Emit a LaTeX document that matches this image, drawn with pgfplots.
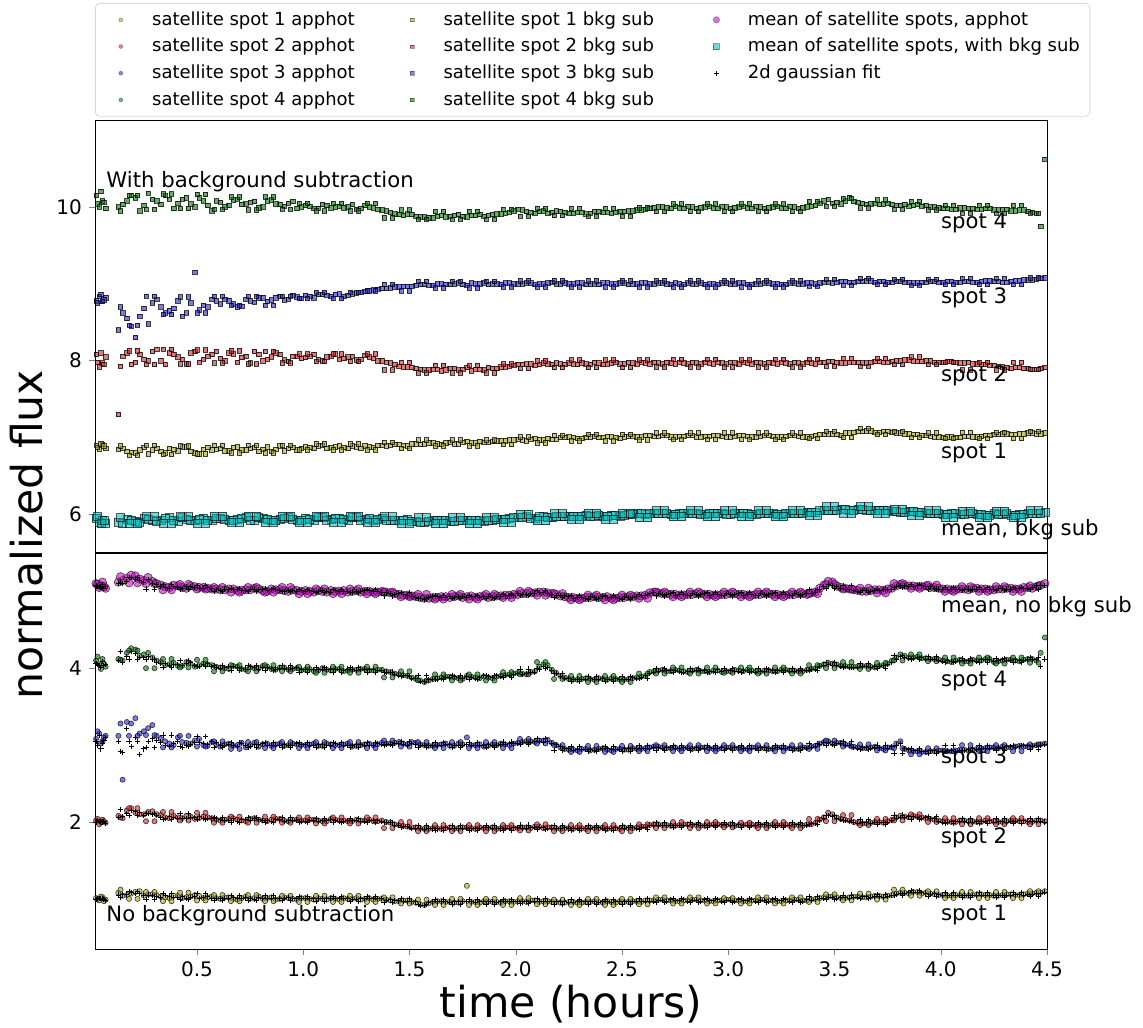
\documentclass[border=0pt]{standalone}
\usepackage{pgfplots}
\pgfplotsset{compat=1.18}
\usepackage{pgfplotstable}
\usepackage{fontspec}
\setmainfont{DejaVu Sans}
\definecolor{cA}{RGB}{165,165,20}
\definecolor{cB}{RGB}{210,35,35}
\definecolor{cC}{RGB}{35,35,210}
\definecolor{cD}{RGB}{0,120,0}
\definecolor{cM}{RGB}{185,0,185}
\definecolor{cN}{RGB}{0,185,185}
\pgfplotsset{
  ap/.style={only marks, mark=*, mark size=1.3pt, mark options={fill=#1, fill opacity=0.6, draw=black, draw opacity=0.75, line width=0.3pt}},
  bk/.style={only marks, mark=square*, mark size=1.1pt, mark options={fill=#1, fill opacity=0.6, draw=black, draw opacity=0.75, line width=0.3pt}},
  apL/.style={only marks, mark=*, mark size=1.0pt, mark options={fill=#1, fill opacity=0.55, draw=black, draw opacity=0.4, line width=0.2pt}},
  bkL/.style={only marks, mark=square*, mark size=0.9pt, mark options={fill=#1, fill opacity=0.55, draw=black, draw opacity=0.4, line width=0.2pt}},
  gs/.style={only marks, mark=+, mark size=1.3pt, mark options={draw=black, line width=0.45pt}},
  legimg/.style={legend image code/.code={\path (-9.5pt,0pt) (13.5pt,0pt); \draw[##1] plot coordinates {(0pt,0pt)};}},
}
\pgfplotstableread{
t s1a s2a s3a s4a ma g1 g2 g3 g4 gm s1b s2b s3b s4b mb
0.025 1.01 2.02 3.08 4.10 5.10 0.99 2.00 3.05 4.06 5.07 6.90 8.08 8.78 10.15 5.95
0.04 0.98 1.97 3.15 4.05 5.05 1.00 2.01 3.12 4.03 5.06 6.85 7.92 8.84 10.00 5.90
0.055 1.02 2.03 3.05 4.12 5.12 1.01 2.00 3.02 4.09 5.09 6.91 7.97 8.77 10.08 5.93
0.07 0.99 1.99 3.12 4.02 5.04 0.98 1.98 3.10 4.05 5.06 6.86 8.05 8.82 9.98 5.89
0.13 1.08 2.08 3.12 4.12 5.12 1.05 2.06 3.05 4.10 5.10 6.85 7.30 8.40 10.00 5.90
0.17 1.05 2.15 3.30 4.20 5.17 1.06 2.11 3.22 4.15 5.13 6.82 8.10 8.55 10.08 5.94
0.21 1.09 2.12 3.35 4.24 5.20 1.07 2.14 3.10 4.19 5.16 6.80 7.98 8.30 10.12 5.91
0.25 1.04 2.10 3.18 4.18 5.14 1.05 2.08 2.95 4.14 5.11 6.87 8.02 8.68 10.02 5.95
0.29 1.06 2.14 3.26 4.14 5.13 1.04 2.10 3.08 4.12 5.10 6.84 8.12 8.75 10.10 5.92
0.33 1.03 2.09 3.08 4.08 5.08 1.02 2.06 3.04 4.06 5.06 6.82 8.00 8.70 10.03 5.93
0.37 1.01 2.05 3.02 4.05 5.05 1.03 2.07 2.98 4.03 5.04 6.86 8.10 8.65 10.10 5.96
0.41 1.04 2.06 3.10 4.03 5.07 1.02 2.04 3.05 4.05 5.05 6.83 8.05 8.78 10.05 5.91
0.45 1.02 2.08 3.03 4.08 5.04 1.01 2.05 3.00 4.06 5.06 6.88 7.96 8.62 10.12 5.94
0.49 1.05 2.04 3.06 4.02 5.06 1.03 2.06 3.03 4.04 5.05 6.80 8.12 9.15 10.00 5.92
0.53 1.01 2.07 3.00 4.06 5.05 1.02 2.05 3.02 4.05 5.04 6.85 8.02 8.72 10.08 5.95
0.57 1.03 2.05 3.04 4.04 5.03 1.01 2.04 3.05 4.02 5.04 6.84 8.08 8.80 9.95 5.93
0.61 1.00 2.02 2.98 4.01 5.02 1.01 2.03 3.00 4.00 5.01 6.86 8.03 8.74 10.06 5.95
0.65 1.02 2.04 3.02 3.99 5.03 1.00 2.02 3.01 4.02 5.02 6.83 8.10 8.78 10.02 5.92
0.69 0.99 2.03 3.00 4.02 5.01 1.01 2.01 2.98 4.01 5.02 6.88 7.98 8.70 10.10 5.94
0.73 1.03 2.01 2.97 3.98 5.02 1.02 2.03 2.99 3.99 5.01 6.84 8.06 8.80 10.04 5.96
0.77 1.01 2.05 3.03 4.00 5.04 0.99 2.04 3.01 4.01 5.03 6.87 8.12 8.76 10.07 5.93
0.81 1.00 2.02 3.01 4.03 5.01 1.01 2.02 3.02 4.01 5.02 6.85 8.00 8.82 10.00 5.95
0.85 1.02 2.03 2.99 3.99 5.03 1.00 2.01 3.00 4.00 5.02 6.82 8.05 8.79 10.09 5.92
0.89 1.00 2.04 3.02 4.01 5.02 1.01 2.03 3.00 4.00 5.01 6.89 8.08 8.84 10.03 5.94
0.93 1.01 2.01 3.00 3.98 5.00 1.02 2.02 2.99 3.99 5.01 6.86 7.99 8.80 10.05 5.96
0.97 0.99 2.03 3.01 4.00 5.01 1.00 2.02 3.02 4.01 5.00 6.84 8.06 8.83 9.98 5.93
1.01 1.01 2.02 3.00 3.98 5.01 1.00 2.01 3.01 3.99 5.00 6.88 8.04 8.85 10.02 5.95
1.05 0.99 2.03 3.02 3.96 4.99 1.00 2.02 3.00 3.98 5.00 6.86 8.08 8.82 9.98 5.93
1.09 1.00 2.01 2.99 4.00 5.00 1.01 2.02 3.01 3.99 5.01 6.90 8.00 8.86 10.03 5.96
1.13 1.01 2.04 3.01 3.97 5.01 1.00 2.03 3.00 3.98 4.99 6.87 8.06 8.84 9.99 5.94
1.17 0.99 2.02 3.00 3.99 5.00 1.00 2.01 3.01 3.98 5.00 6.89 8.02 8.87 10.01 5.95
1.21 1.00 2.01 3.02 3.97 4.99 1.01 2.02 3.00 3.99 5.00 6.86 8.05 8.85 10.00 5.93
1.25 1.01 2.03 2.99 3.98 5.01 0.99 2.02 3.01 3.97 5.00 6.88 8.01 8.88 9.97 5.96
1.29 1.00 2.02 3.01 3.99 5.00 1.01 2.01 3.00 3.98 5.01 6.89 8.07 8.90 10.02 5.94
1.33 0.99 2.01 3.00 3.97 4.99 1.00 2.02 2.99 3.98 5.00 6.87 8.03 8.92 9.99 5.93
1.37 1.00 2.02 3.03 3.98 5.00 1.00 2.01 3.01 3.97 4.99 6.90 8.00 8.94 9.96 5.95
1.41 0.98 1.99 3.02 3.95 4.98 0.99 2.00 3.01 3.94 4.97 6.90 7.97 8.95 9.93 5.93
1.45 0.97 1.96 3.04 3.92 4.96 0.98 1.95 3.02 3.91 4.97 6.91 7.93 8.96 9.90 5.92
1.49 0.98 1.94 3.01 3.90 4.95 0.97 1.94 3.00 3.91 4.94 6.89 7.92 8.97 9.91 5.94
1.53 0.95 1.93 3.03 3.86 4.93 0.96 1.92 3.01 3.87 4.92 6.92 7.90 8.98 9.88 5.91
1.57 0.92 1.91 3.00 3.82 4.91 0.91 1.90 2.99 3.83 4.90 6.92 7.88 8.99 9.87 5.90
1.61 0.96 1.92 2.99 3.86 4.92 0.97 1.91 3.00 3.85 4.93 6.93 7.89 8.98 9.86 5.92
1.65 0.97 1.91 3.01 3.88 4.93 0.96 1.92 3.00 3.87 4.92 6.91 7.87 9.00 9.89 5.93
1.69 0.96 1.93 2.99 3.89 4.92 0.95 1.92 3.01 3.88 4.93 6.94 7.90 8.99 9.88 5.91
1.73 0.95 1.92 3.02 3.87 4.94 0.96 1.91 3.00 3.88 4.93 6.92 7.88 9.01 9.90 5.92
1.77 1.17 1.93 3.10 3.90 4.93 0.97 1.92 3.01 3.89 4.92 6.95 7.91 8.98 9.87 5.93
1.81 0.96 1.91 3.00 3.88 4.92 0.95 1.92 2.99 3.87 4.93 6.93 7.89 9.00 9.89 5.92
1.85 0.97 1.92 2.98 3.89 4.94 0.96 1.93 3.00 3.90 4.93 6.94 7.88 9.01 9.88 5.91
1.89 0.96 1.93 3.01 3.87 4.93 0.97 1.92 3.00 3.88 4.92 6.95 7.90 9.00 9.90 5.93
1.93 0.95 1.92 3.02 3.90 4.94 0.96 1.91 3.01 3.89 4.93 6.96 7.92 8.99 9.91 5.94
1.97 0.97 1.93 3.00 3.92 4.95 0.96 1.92 3.02 3.91 4.94 6.97 7.93 9.01 9.93 5.95
2.01 0.97 1.92 3.03 3.94 4.96 0.96 1.93 3.02 3.93 4.97 6.98 7.95 9.00 9.97 5.96
2.05 0.96 1.93 3.05 3.92 4.97 0.97 1.92 3.04 3.93 4.96 6.96 7.96 9.01 9.94 5.97
2.09 0.98 1.94 3.04 3.96 4.98 0.97 1.93 3.05 3.95 4.97 6.99 7.94 8.99 9.92 5.95
2.13 0.97 1.92 3.06 4.05 4.99 0.96 1.93 3.04 4.02 4.98 6.97 7.97 9.00 9.95 5.97
2.17 0.96 1.93 3.03 3.98 4.97 0.97 1.92 3.02 3.97 4.96 6.98 7.95 9.02 9.93 5.96
2.21 0.95 1.91 2.97 3.90 4.94 0.96 1.92 2.98 3.89 4.95 7.00 7.96 9.00 9.94 5.97
2.25 0.96 1.92 2.94 3.86 4.92 0.95 1.91 2.95 3.87 4.93 7.01 7.97 9.00 9.92 5.98
2.29 0.95 1.93 2.93 3.85 4.91 0.96 1.92 2.94 3.86 4.92 6.99 7.95 9.01 9.93 5.97
2.33 0.96 1.91 2.95 3.87 4.92 0.97 1.92 2.94 3.86 4.91 7.00 7.96 8.99 9.91 5.99
2.37 0.97 1.92 2.94 3.85 4.93 0.96 1.93 2.93 3.86 4.92 7.02 7.98 9.00 9.94 5.98
2.41 0.95 1.93 2.96 3.86 4.92 0.96 1.92 2.95 3.87 4.93 7.00 7.95 9.01 9.93 5.97
2.45 0.96 1.92 2.93 3.87 4.91 0.95 1.91 2.94 3.86 4.92 7.01 7.97 9.00 9.92 5.99
2.49 0.97 1.91 2.95 3.85 4.92 0.96 1.92 2.94 3.86 4.91 6.99 7.96 9.01 9.94 5.98
2.53 0.96 1.92 2.94 3.86 4.93 0.97 1.93 2.95 3.85 4.92 7.02 7.98 8.99 9.95 6.00
2.57 0.97 1.93 2.95 3.88 4.94 0.96 1.92 2.96 3.87 4.93 7.01 7.96 9.00 9.96 6.01
2.61 0.98 1.94 2.96 3.90 4.95 0.97 1.93 2.95 3.91 4.94 7.03 7.97 9.01 9.97 6.00
2.65 0.98 1.97 2.98 3.96 4.99 0.97 1.96 2.97 3.95 4.98 7.02 7.98 9.00 9.99 6.01
2.69 0.99 1.96 2.97 3.98 4.97 0.98 1.95 2.96 3.97 4.96 7.03 7.96 9.01 10.00 6.02
2.73 0.98 1.95 2.96 3.96 4.96 0.99 1.96 2.97 3.97 4.97 7.01 7.97 8.99 9.98 6.00
2.77 0.97 1.96 2.95 3.97 4.95 0.98 1.95 2.96 3.96 4.96 7.02 7.98 9.00 9.99 6.01
2.81 0.98 1.97 2.97 3.95 4.96 0.97 1.96 2.96 3.96 4.95 7.03 7.96 9.01 10.01 6.02
2.85 0.99 1.96 2.96 3.98 4.97 0.98 1.97 2.97 3.97 4.96 7.01 7.97 9.00 9.98 6.01
2.89 0.98 1.95 2.97 3.96 4.96 0.99 1.96 2.96 3.97 4.97 7.02 7.98 8.99 10.00 6.00
2.93 0.97 1.97 2.95 3.97 4.95 0.98 1.96 2.96 3.96 4.96 7.03 7.96 9.00 9.99 6.02
2.97 0.98 1.96 2.96 3.95 4.96 0.97 1.97 2.97 3.96 4.95 7.02 7.97 9.01 10.01 6.01
3.01 0.99 1.97 2.97 3.96 4.97 0.98 1.96 2.96 3.97 4.96 7.01 7.98 9.00 9.98 6.00
3.05 0.98 1.96 2.96 3.97 4.96 0.99 1.97 2.97 3.96 4.97 7.03 7.96 9.01 10.00 6.02
3.09 0.97 1.97 2.95 3.98 4.95 0.98 1.96 2.96 3.97 4.96 7.02 7.97 8.99 9.99 6.01
3.13 0.98 1.95 2.97 3.96 4.96 0.97 1.96 2.96 3.95 4.95 7.01 7.98 9.00 10.01 6.00
3.17 0.99 1.96 2.96 3.97 4.97 0.98 1.97 2.97 3.96 4.96 7.03 7.96 9.01 9.98 6.02
3.21 0.98 1.97 2.95 3.96 4.96 0.99 1.96 2.96 3.97 4.97 7.02 7.97 9.00 10.00 6.01
3.25 0.97 1.96 2.97 3.98 4.95 0.98 1.95 2.96 3.97 4.96 7.01 7.98 8.99 9.99 6.00
3.29 0.98 1.95 2.96 3.97 4.96 0.97 1.96 2.97 3.96 4.95 7.03 7.96 9.01 10.01 6.02
3.33 0.99 1.96 2.95 3.96 4.97 0.98 1.97 2.96 3.97 4.96 7.02 7.97 9.00 9.98 6.01
3.37 0.98 1.97 2.97 3.98 4.96 0.99 1.96 2.96 3.97 4.97 7.01 7.98 9.01 10.00 6.03
3.41 1.00 1.99 2.99 4.00 4.99 0.99 1.98 2.98 3.99 4.98 7.03 7.96 9.00 10.02 6.03
3.45 1.02 2.06 3.04 4.05 5.08 1.01 2.04 3.03 4.03 5.06 7.04 7.98 9.02 10.08 6.06
3.49 1.03 2.10 3.02 4.06 5.12 1.02 2.07 3.01 4.04 5.08 7.05 7.99 9.01 10.05 6.05
3.53 1.01 2.04 3.03 4.03 5.05 1.02 2.03 3.02 4.02 5.04 7.03 7.97 9.03 10.04 6.07
3.57 1.02 2.02 3.00 4.02 5.03 1.01 2.01 2.99 4.01 5.02 7.06 7.98 9.02 10.12 6.06
3.61 1.03 1.99 2.97 4.02 5.01 1.02 1.98 2.96 4.01 5.00 7.08 7.98 9.03 10.06 6.07
3.65 1.02 1.98 2.96 4.03 5.00 1.03 1.99 2.97 4.02 5.01 7.09 7.97 9.04 10.03 6.06
3.69 1.04 2.00 2.98 4.01 5.02 1.03 1.99 2.97 4.02 5.01 7.07 7.99 9.02 10.05 6.05
3.73 1.03 1.99 2.95 4.04 5.01 1.02 2.00 2.96 4.03 5.02 7.08 7.98 9.03 10.04 6.06
3.77 1.05 2.03 2.97 4.10 5.04 1.04 2.02 2.98 4.08 5.03 7.07 7.99 9.02 10.03 6.04
3.81 1.08 2.08 3.05 4.18 5.09 1.07 2.06 3.02 4.15 5.07 7.06 8.00 9.03 10.02 6.03
3.85 1.07 2.06 2.93 4.14 5.07 1.08 2.07 2.94 4.13 5.06 7.05 8.01 9.02 10.01 6.04
3.89 1.09 2.07 2.92 4.15 5.06 1.08 2.06 2.93 4.14 5.07 7.04 7.99 9.01 10.03 6.03
3.93 1.08 2.05 2.91 4.13 5.07 1.07 2.06 2.92 4.12 5.06 7.03 8.00 9.02 10.02 6.02
3.97 1.06 2.03 2.92 4.12 5.05 1.07 2.04 2.93 4.11 5.04 7.01 7.98 9.03 10.00 6.01
4.01 1.05 2.01 2.93 4.10 5.03 1.04 2.00 2.92 4.09 5.02 7.00 7.98 9.02 9.98 6.00
4.05 1.04 2.00 2.92 4.08 5.02 1.05 2.01 2.93 4.09 5.03 7.01 7.99 9.03 9.97 6.01
4.09 1.05 2.02 2.94 4.11 5.03 1.04 2.01 2.93 4.10 5.02 7.00 7.97 9.02 9.99 6.00
4.13 1.04 2.01 2.93 4.09 5.02 1.05 2.00 2.94 4.10 5.03 7.02 7.98 9.03 9.98 6.01
4.17 1.06 2.00 2.95 4.10 5.04 1.05 2.01 2.94 4.09 5.03 7.01 7.96 9.02 9.97 6.00
4.21 1.05 2.02 2.96 4.12 5.03 1.04 2.01 2.95 4.11 5.02 7.03 7.95 9.04 9.98 5.99
4.25 1.04 2.01 2.97 4.08 5.02 1.05 2.00 2.96 4.09 5.03 7.04 7.94 9.03 9.96 6.01
4.29 1.05 2.00 2.98 4.10 5.03 1.04 2.01 2.97 4.11 5.04 7.05 7.92 9.02 9.97 6.00
4.33 1.06 2.02 2.97 4.11 5.04 1.05 2.01 2.98 4.10 5.03 7.04 7.90 9.03 9.95 5.99
4.37 1.05 2.01 2.99 4.09 5.03 1.06 2.02 2.98 4.10 5.04 7.05 7.91 9.04 9.96 6.00
4.41 1.07 2.00 2.98 4.12 5.05 1.06 2.01 2.99 4.11 5.04 7.06 7.90 9.05 9.94 6.01
4.45 1.08 2.02 3.00 4.10 5.06 1.07 2.01 2.99 4.11 5.07 7.05 7.89 9.06 9.92 6.02
4.49 1.10 2.01 3.02 4.40 5.10 1.09 2.00 3.01 4.12 5.08 7.06 7.91 9.08 10.62 6.03
0.032 1.00 2.04 3.18 4.15 5.09 1.01 2.02 3.00 4.05 5.06 6.87 7.98 8.75 10.04 5.97
0.048 1.03 2.00 3.02 3.99 5.07 1.00 1.99 2.95 4.01 5.05 6.92 8.10 8.86 10.20 5.88
0.062 0.97 2.01 3.10 4.06 5.06 0.99 2.01 3.06 4.04 5.04 6.89 7.95 8.79 10.06 5.92
0.15 1.04 2.05 2.55 4.10 5.14 1.06 2.07 2.90 4.08 5.10 6.86 8.06 8.62 10.03 5.88
0.19 1.07 2.18 3.28 4.26 5.21 1.08 2.15 2.98 4.22 5.18 6.81 7.95 8.45 10.15 5.93
0.23 1.10 2.10 3.15 4.16 5.16 1.07 2.12 2.88 4.14 5.14 6.84 8.08 8.58 9.95 5.90
0.27 1.06 2.13 3.22 4.20 5.18 1.05 2.11 3.05 4.15 5.15 6.79 8.00 8.48 10.18 5.94
0.31 1.05 2.10 3.12 4.10 5.10 1.03 2.08 3.06 4.08 5.09 6.86 8.15 8.80 10.08 5.91
0.35 1.02 2.06 3.05 4.04 5.06 1.04 2.05 2.99 4.06 5.05 6.80 7.95 8.62 10.15 5.95
0.39 1.04 2.08 3.00 4.07 5.08 1.02 2.06 3.02 4.05 5.06 6.85 8.08 8.68 9.98 5.92
0.43 1.01 2.05 3.04 4.03 5.05 1.03 2.04 2.97 4.04 5.04 6.88 8.02 8.58 10.10 5.96
0.47 1.03 2.07 3.02 4.06 5.07 1.02 2.06 3.01 4.07 5.06 6.82 8.10 8.75 10.04 5.92
0.51 1.04 2.05 3.08 4.04 5.05 1.01 2.07 3.04 4.02 5.04 6.79 7.98 8.66 10.12 5.94
0.55 1.02 2.06 2.99 4.05 5.04 1.03 2.05 3.01 4.06 5.05 6.87 8.06 8.70 10.02 5.93
0.59 1.01 2.03 3.01 4.02 5.03 1.00 2.04 3.03 4.01 5.02 6.85 8.12 8.78 10.08 5.95
0.63 1.02 2.03 3.01 4.00 5.02 1.01 2.02 2.99 4.01 5.03 6.83 8.00 8.80 10.00 5.94
0.67 1.00 2.05 2.99 4.03 5.03 1.02 2.04 3.00 4.02 5.02 6.87 8.09 8.74 10.09 5.92
0.71 1.01 2.02 3.03 3.99 5.01 1.00 2.03 3.02 4.00 5.01 6.84 8.04 8.71 10.03 5.95
0.75 1.00 2.04 3.00 4.01 5.02 1.01 2.02 2.98 4.02 5.02 6.86 7.97 8.78 10.06 5.93
0.79 1.03 2.03 2.98 4.00 5.03 1.02 2.03 3.01 3.99 5.02 6.82 8.08 8.82 9.99 5.96
0.83 1.01 2.01 3.02 4.02 5.00 1.00 2.02 3.00 4.01 5.01 6.88 8.02 8.77 10.08 5.94
0.87 0.99 2.04 3.01 3.98 5.02 1.01 2.03 2.99 3.99 5.02 6.85 8.10 8.82 10.04 5.92
0.91 1.02 2.02 2.99 4.01 5.01 1.00 2.01 3.01 4.00 5.00 6.83 8.01 8.79 10.01 5.95
0.95 1.00 2.03 3.02 3.99 5.02 1.01 2.02 3.00 4.00 5.01 6.87 8.06 8.85 10.07 5.94
0.99 1.01 2.02 3.00 3.97 5.00 1.00 2.01 3.01 3.98 5.01 6.86 8.03 8.81 10.00 5.93
1.03 1.00 2.03 3.01 3.99 5.00 1.01 2.02 3.00 3.98 5.01 6.87 8.06 8.84 10.01 5.94
1.07 1.01 2.02 2.99 3.97 5.01 1.00 2.01 3.01 3.98 5.00 6.89 8.02 8.86 9.98 5.96
1.11 0.99 2.01 3.02 3.98 4.99 1.00 2.02 3.00 3.99 5.00 6.86 8.05 8.85 10.02 5.93
1.15 1.00 2.03 3.00 3.99 5.00 1.01 2.02 3.02 3.98 5.01 6.88 8.09 8.86 10.00 5.95
1.19 1.01 2.02 3.01 3.96 5.01 1.00 2.01 3.00 3.97 5.00 6.87 8.03 8.84 9.99 5.94
1.23 1.00 2.01 2.98 3.98 5.00 0.99 2.02 2.99 3.99 4.99 6.89 8.06 8.87 10.03 5.96
1.27 0.99 2.02 3.00 3.99 4.99 1.00 2.01 3.01 3.98 5.00 6.86 8.02 8.89 9.98 5.93
1.31 1.01 2.03 3.02 3.97 5.00 1.00 2.02 3.00 3.98 5.01 6.88 8.05 8.91 10.00 5.95
1.35 1.00 2.01 3.01 3.98 4.99 1.01 2.02 3.02 3.97 5.00 6.90 8.00 8.93 9.97 5.94
1.39 0.99 2.00 3.02 3.96 4.99 0.98 1.99 3.01 3.95 4.98 6.89 7.98 8.94 9.95 5.93
1.43 0.97 1.97 3.03 3.93 4.97 0.98 1.96 3.02 3.92 4.96 6.91 7.95 8.96 9.91 5.92
1.47 0.98 1.95 3.02 3.91 4.95 0.97 1.94 3.01 3.90 4.96 6.90 7.92 8.97 9.89 5.93
1.51 0.96 1.93 3.04 3.88 4.94 0.97 1.92 3.02 3.87 4.93 6.92 7.91 8.97 9.90 5.91
1.55 0.93 1.92 3.01 3.84 4.92 0.92 1.91 3.00 3.83 4.91 6.91 7.89 8.99 9.87 5.90
1.59 0.94 1.91 2.99 3.84 4.91 0.95 1.92 3.00 3.85 4.92 6.93 7.88 8.98 9.86 5.91
1.63 0.97 1.92 3.00 3.87 4.92 0.96 1.91 2.99 3.86 4.93 6.92 7.89 9.00 9.88 5.92
1.67 0.96 1.92 3.02 3.89 4.93 0.97 1.93 3.01 3.88 4.92 6.93 7.88 8.99 9.87 5.93
1.71 0.95 1.91 2.99 3.88 4.93 0.96 1.92 3.00 3.89 4.92 6.92 7.90 9.00 9.89 5.91
1.75 0.97 1.93 3.01 3.86 4.92 0.96 1.92 3.00 3.87 4.93 6.94 7.89 8.99 9.88 5.92
1.79 0.96 1.92 3.00 3.89 4.94 0.97 1.91 2.99 3.88 4.93 6.93 7.87 9.01 9.89 5.93
1.83 0.95 1.93 3.01 3.87 4.93 0.96 1.92 3.00 3.88 4.92 6.95 7.89 9.00 9.90 5.92
1.87 0.97 1.92 2.99 3.88 4.92 0.96 1.93 3.01 3.89 4.93 6.94 7.91 8.99 9.89 5.93
1.91 0.96 1.91 3.00 3.89 4.94 0.95 1.92 3.00 3.90 4.93 6.96 7.90 9.00 9.91 5.94
1.95 0.97 1.93 3.01 3.91 4.95 0.96 1.92 3.01 3.90 4.94 6.96 7.92 9.01 9.92 5.94
1.99 0.96 1.92 3.02 3.93 4.96 0.97 1.93 3.02 3.92 4.95 6.97 7.94 9.00 9.95 5.96
2.03 0.97 1.93 3.04 3.93 4.97 0.96 1.92 3.03 3.92 4.96 6.97 7.95 9.00 9.96 5.96
2.07 0.98 1.92 3.05 3.95 4.98 0.97 1.93 3.04 3.94 4.97 6.98 7.96 9.01 9.93 5.95
2.11 0.96 1.94 3.06 4.02 4.99 0.97 1.93 3.05 3.99 4.98 6.97 7.95 9.00 9.94 5.97
2.15 0.97 1.93 3.07 4.04 4.98 0.96 1.92 3.05 4.01 4.97 6.99 7.96 9.01 9.92 5.96
2.19 0.96 1.92 3.00 3.94 4.96 0.97 1.91 3.01 3.93 4.95 6.98 7.97 9.00 9.95 5.97
2.23 0.95 1.92 2.95 3.88 4.93 0.96 1.93 2.96 3.87 4.94 7.00 7.95 9.01 9.93 5.98
2.27 0.96 1.91 2.94 3.85 4.92 0.95 1.92 2.93 3.86 4.91 7.00 7.96 9.00 9.92 5.97
2.31 0.95 1.92 2.95 3.86 4.91 0.96 1.91 2.94 3.85 4.92 6.99 7.97 9.01 9.93 5.98
2.35 0.96 1.93 2.93 3.86 4.92 0.97 1.92 2.94 3.87 4.93 7.01 7.95 9.00 9.92 5.97
2.39 0.96 1.92 2.95 3.87 4.92 0.95 1.93 2.94 3.86 4.91 7.00 7.97 8.99 9.94 5.99
2.43 0.97 1.91 2.94 3.85 4.93 0.96 1.92 2.95 3.86 4.92 7.02 7.96 9.01 9.93 5.98
2.47 0.95 1.92 2.95 3.86 4.91 0.96 1.93 2.94 3.87 4.92 7.00 7.98 9.00 9.93 5.99
2.51 0.96 1.93 2.94 3.85 4.92 0.97 1.92 2.95 3.86 4.93 7.01 7.96 9.01 9.94 5.99
2.55 0.97 1.92 2.96 3.87 4.93 0.96 1.93 2.95 3.88 4.92 7.02 7.97 9.00 9.95 6.00
2.59 0.96 1.94 2.95 3.89 4.94 0.97 1.93 2.96 3.88 4.95 7.01 7.98 9.01 9.96 6.01
2.63 0.98 1.96 2.97 3.95 4.98 0.97 1.95 2.96 3.93 4.97 7.03 7.96 9.00 9.98 6.01
2.67 0.99 1.97 2.98 3.97 4.98 0.98 1.96 2.97 3.96 4.97 7.02 7.97 9.01 10.00 6.02
2.71 0.98 1.96 2.96 3.96 4.97 0.97 1.95 2.97 3.97 4.96 7.03 7.98 9.00 9.99 6.01
2.75 0.97 1.95 2.97 3.98 4.96 0.98 1.96 2.96 3.97 4.95 7.01 7.96 9.01 10.01 6.00
2.79 0.98 1.97 2.96 3.96 4.95 0.99 1.96 2.97 3.95 4.96 7.02 7.97 8.99 9.98 6.02
2.83 0.99 1.96 2.95 3.97 4.96 0.98 1.97 2.96 3.96 4.97 7.03 7.98 9.00 10.00 6.01
2.87 0.98 1.95 2.97 3.96 4.97 0.97 1.96 2.96 3.97 4.96 7.01 7.96 9.01 9.99 6.00
2.91 0.97 1.96 2.96 3.95 4.96 0.98 1.95 2.97 3.96 4.95 7.02 7.97 9.00 10.01 6.02
2.95 0.98 1.97 2.95 3.97 4.95 0.99 1.96 2.96 3.98 4.96 7.03 7.98 8.99 9.98 6.01
2.99 0.99 1.96 2.97 3.96 4.96 0.98 1.97 2.96 3.97 4.97 7.01 7.96 9.01 10.00 6.00
3.03 0.98 1.95 2.96 3.98 4.97 0.97 1.96 2.97 3.96 4.96 7.02 7.97 9.00 9.99 6.02
3.07 0.97 1.96 2.95 3.96 4.96 0.98 1.95 2.96 3.97 4.95 7.03 7.98 9.01 10.01 6.01
3.11 0.98 1.97 2.97 3.97 4.95 0.99 1.96 2.96 3.96 4.96 7.01 7.96 8.99 9.98 6.00
3.15 0.99 1.96 2.96 3.95 4.96 0.98 1.97 2.97 3.96 4.97 7.02 7.97 9.00 10.00 6.02
3.19 0.98 1.95 2.95 3.97 4.97 0.97 1.96 2.96 3.98 4.96 7.03 7.98 9.01 9.99 6.01
3.23 0.97 1.96 2.97 3.96 4.96 0.98 1.95 2.97 3.97 4.95 7.01 7.96 9.00 10.01 6.00
3.27 0.98 1.97 2.96 3.98 4.95 0.99 1.96 2.96 3.97 4.96 7.02 7.97 8.99 9.98 6.02
3.31 0.99 1.96 2.95 3.97 4.96 0.98 1.97 2.96 3.96 4.97 7.03 7.98 9.01 10.00 6.01
3.35 0.98 1.95 2.97 3.96 4.97 0.97 1.96 2.97 3.97 4.96 7.01 7.96 9.00 9.99 6.02
3.39 0.99 1.97 2.98 3.99 4.98 0.98 1.98 2.97 3.98 4.97 7.02 7.97 9.01 10.01 6.03
3.43 1.01 2.03 3.02 4.03 5.04 1.00 2.02 3.01 4.02 5.03 7.04 7.98 9.01 10.05 6.05
3.47 1.03 2.12 3.05 4.07 5.13 1.02 2.08 3.03 4.05 5.09 7.05 7.99 9.02 10.10 6.06
3.51 1.02 2.06 3.03 4.05 5.07 1.01 2.05 3.02 4.04 5.06 7.04 7.98 9.02 10.06 6.06
3.55 1.01 2.03 3.01 4.03 5.04 1.02 2.02 3.00 4.02 5.03 7.06 7.97 9.03 10.08 6.07
3.59 1.03 2.00 2.98 4.02 5.02 1.02 1.99 2.97 4.01 5.01 7.07 7.98 9.02 10.07 6.06
3.63 1.02 1.98 2.96 4.03 5.00 1.03 1.99 2.97 4.02 5.01 7.08 7.97 9.03 10.05 6.07
3.67 1.03 1.99 2.97 4.02 5.01 1.02 1.98 2.96 4.01 5.00 7.09 7.98 9.04 10.04 6.06
3.71 1.04 2.00 2.96 4.03 5.02 1.03 1.99 2.97 4.02 5.01 7.07 7.99 9.03 10.03 6.05
3.75 1.04 2.01 2.97 4.06 5.03 1.03 2.00 2.96 4.05 5.02 7.08 7.98 9.02 10.05 6.05
3.79 1.07 2.06 3.02 4.14 5.07 1.06 2.05 3.00 4.12 5.06 7.06 8.00 9.03 10.02 6.04
3.83 1.08 2.07 2.95 4.16 5.08 1.07 2.06 2.96 4.14 5.07 7.05 8.01 9.02 10.03 6.03
3.87 1.09 2.08 2.92 4.14 5.07 1.08 2.07 2.93 4.13 5.06 7.04 8.00 9.01 10.02 6.04
3.91 1.07 2.06 2.91 4.13 5.06 1.08 2.05 2.92 4.14 5.07 7.03 7.99 9.02 10.01 6.03
3.95 1.07 2.04 2.92 4.12 5.05 1.06 2.05 2.93 4.11 5.06 7.02 8.00 9.03 10.00 6.02
3.99 1.05 2.02 2.93 4.11 5.04 1.06 2.01 2.92 4.10 5.03 7.01 7.98 9.02 9.99 6.01
4.03 1.04 2.01 2.92 4.09 5.03 1.05 2.00 2.93 4.10 5.02 7.01 7.99 9.03 9.98 6.00
4.07 1.05 2.00 2.93 4.10 5.02 1.04 2.01 2.92 4.09 5.03 7.00 7.98 9.02 9.97 6.01
4.11 1.04 2.02 2.94 4.09 5.03 1.05 2.01 2.93 4.10 5.02 7.02 7.97 9.03 9.99 6.00
4.15 1.05 2.01 2.94 4.11 5.04 1.04 2.00 2.95 4.10 5.03 7.01 7.96 9.02 9.98 6.01
4.19 1.06 2.00 2.96 4.10 5.03 1.05 2.01 2.95 4.11 5.02 7.02 7.95 9.03 9.97 6.00
4.23 1.05 2.01 2.97 4.12 5.02 1.04 2.02 2.96 4.11 5.03 7.03 7.94 9.04 9.98 5.99
4.27 1.04 2.00 2.96 4.09 5.03 1.05 2.01 2.97 4.10 5.04 7.04 7.93 9.03 9.96 6.00
4.31 1.06 2.01 2.97 4.11 5.04 1.05 2.00 2.98 4.10 5.03 7.05 7.91 9.02 9.97 6.01
4.35 1.05 2.02 2.98 4.10 5.03 1.06 2.01 2.97 4.11 5.04 7.04 7.91 9.04 9.95 5.99
4.39 1.06 2.01 2.98 4.11 5.05 1.05 2.02 2.99 4.10 5.04 7.05 7.90 9.05 9.96 6.00
4.43 1.07 2.00 2.99 4.12 5.04 1.06 2.01 2.98 4.11 5.05 7.06 7.89 9.05 9.93 6.01
4.47 1.08 2.02 3.01 4.20 5.08 1.07 2.01 3.00 4.02 5.07 7.05 7.90 9.07 9.75 6.02
0.14 1.12 2.06 3.28 4.11 5.19 1.02 2.16 2.92 4.22 5.12 6.89 7.93 8.70 9.95 5.96
0.22 1.00 2.18 3.12 4.23 5.11 1.10 2.08 3.05 4.12 5.18 6.77 8.13 8.46 10.15 5.88
0.30 1.09 2.01 3.13 4.00 5.10 0.99 2.11 2.97 4.11 5.03 6.90 7.95 8.84 9.97 5.97
0.38 0.97 2.13 2.97 4.12 5.02 1.07 2.03 3.13 4.01 5.09 6.78 8.15 8.60 10.17 5.89
0.46 1.08 2.02 3.12 4.01 5.09 0.99 2.11 2.98 4.10 5.03 6.89 7.96 8.83 9.98 5.97
0.54 0.98 2.12 2.98 4.11 5.03 1.07 2.03 3.11 4.02 5.08 6.79 8.14 8.62 10.16 5.89
0.62 1.05 1.99 3.05 3.96 5.05 0.98 2.06 2.97 4.03 5.00 6.90 7.97 8.84 9.97 5.98
0.70 0.97 2.07 2.95 4.04 4.99 1.04 2.00 3.03 3.97 5.04 6.80 8.13 8.72 10.13 5.90
0.78 1.05 1.99 3.04 3.96 5.05 0.98 2.06 2.97 4.03 5.00 6.90 7.96 8.84 9.96 5.98
0.86 0.97 2.07 2.96 4.04 4.99 1.04 2.00 3.03 3.97 5.04 6.80 8.12 8.72 10.13 5.90
0.94 1.04 1.99 3.04 3.96 5.05 0.98 2.06 2.97 4.03 5.00 6.90 7.97 8.84 9.97 5.98
1.02 0.96 2.06 2.96 4.02 4.97 1.03 1.99 3.03 3.95 5.02 6.84 8.09 8.81 10.05 5.90
1.10 1.04 1.98 3.04 3.94 5.03 0.97 2.05 2.97 4.01 4.98 6.92 7.99 8.89 9.95 5.98
1.18 0.96 2.06 2.96 4.02 4.97 1.03 1.99 3.03 3.95 5.02 6.84 8.09 8.81 10.05 5.90
1.26 1.04 1.98 3.04 3.94 5.03 0.97 2.05 2.97 4.01 4.98 6.92 7.99 8.89 9.95 5.98
1.34 0.96 2.06 2.96 4.02 4.97 1.03 1.99 3.03 3.95 5.02 6.84 8.09 8.91 10.05 5.90
1.42 1.02 1.92 3.06 3.88 4.99 0.95 1.99 2.99 3.95 4.94 6.94 7.88 8.99 9.86 5.97
1.50 0.94 2.00 2.98 3.96 4.93 1.01 1.93 3.05 3.89 4.98 6.86 7.98 8.91 9.96 5.89
1.58 0.99 1.88 3.04 3.84 4.96 0.93 1.95 2.97 3.91 4.91 6.97 7.84 9.03 9.84 5.96
1.66 0.92 1.96 2.96 3.92 4.90 0.99 1.89 3.03 3.85 4.95 6.89 7.94 8.95 9.94 5.88
1.74 1.00 1.88 3.04 3.84 4.96 0.93 1.95 2.97 3.91 4.91 6.97 7.84 9.03 9.84 5.96
1.82 0.92 1.96 2.96 3.92 4.90 0.99 1.89 3.03 3.85 4.95 6.89 7.94 8.95 9.94 5.88
1.90 1.00 1.88 3.04 3.84 4.96 0.93 1.95 2.97 3.91 4.91 6.97 7.84 9.03 9.84 5.96
1.98 0.92 1.96 2.96 3.95 4.92 0.99 1.89 3.04 3.88 4.96 6.91 7.96 8.96 9.97 5.90
2.06 1.01 1.89 3.08 3.92 5.00 0.94 1.96 3.01 3.99 4.95 7.01 7.90 9.04 9.88 6.00
2.14 0.93 1.97 3.02 4.08 4.95 1.00 1.90 3.09 4.00 5.01 6.93 8.00 8.96 9.98 5.92
2.22 0.99 1.88 3.00 3.86 4.97 0.93 1.95 2.93 3.93 4.92 7.03 7.91 9.04 9.89 6.01
2.30 0.92 1.96 2.91 3.90 4.89 0.99 1.89 2.98 3.83 4.94 6.96 8.01 8.96 9.98 5.94
2.38 1.00 1.88 2.99 3.82 4.95 0.93 1.95 2.92 3.89 4.90 7.04 7.91 9.04 9.88 6.02
2.46 0.92 1.96 2.91 3.90 4.89 0.99 1.89 2.98 3.83 4.94 6.96 8.01 8.96 9.98 5.94
2.54 1.00 1.88 2.99 3.82 4.95 0.93 1.95 2.92 3.89 4.90 7.04 7.91 9.04 9.88 6.02
2.62 0.93 1.97 2.92 3.93 4.91 1.00 1.90 2.99 3.87 4.96 6.97 8.01 8.96 9.99 5.96
2.70 1.02 1.92 3.00 3.93 4.99 0.95 1.99 2.93 4.00 4.94 7.06 7.92 9.04 9.94 6.05
2.78 0.94 2.00 2.92 4.01 4.93 1.01 1.93 2.99 3.94 4.98 6.98 8.02 8.96 10.04 5.97
2.86 1.02 1.92 3.00 3.93 4.99 0.95 1.99 2.93 4.00 4.94 7.06 7.92 9.04 9.94 6.05
2.94 0.94 2.00 2.92 4.01 4.93 1.01 1.93 2.99 3.94 4.98 6.98 8.02 8.96 10.04 5.97
3.02 1.01 1.93 3.00 3.94 4.99 0.95 1.99 2.93 4.00 4.94 7.06 7.92 9.04 9.94 6.05
3.10 0.94 1.99 2.92 4.01 4.93 1.01 1.93 2.99 3.94 4.98 6.98 8.01 8.96 10.04 5.97
3.18 1.02 1.92 3.00 3.93 4.99 0.95 1.99 2.93 4.00 4.94 7.06 7.92 9.04 9.94 6.05
3.26 0.94 2.00 2.92 4.01 4.93 1.01 1.93 2.99 3.94 4.98 6.98 8.02 8.96 10.04 5.97
3.34 1.02 1.92 3.00 3.93 4.99 0.95 1.99 2.93 4.00 4.94 7.06 7.92 9.04 9.94 6.05
3.42 0.96 2.04 2.95 4.04 4.97 1.03 1.97 3.02 3.97 5.02 6.99 8.02 8.97 10.07 5.99
3.50 1.06 2.01 3.06 4.00 5.09 0.99 2.08 2.99 4.07 5.04 7.08 7.93 9.06 10.01 6.10
3.58 0.98 2.09 2.98 4.08 5.03 1.05 2.02 3.05 4.01 5.08 7.00 8.03 8.98 10.11 6.02
3.66 1.07 1.96 3.01 3.99 5.04 1.00 2.03 2.94 4.06 4.99 7.12 7.93 9.07 9.99 6.10
3.74 0.99 2.04 2.93 4.07 4.98 1.06 1.97 3.00 4.00 5.03 7.04 8.03 8.99 10.09 6.02
3.82 1.12 2.02 2.96 4.10 5.10 1.05 2.09 2.89 4.17 5.05 7.08 7.95 9.06 9.97 6.07
3.90 1.04 2.10 2.88 4.18 5.04 1.11 2.03 2.95 4.11 5.09 7.00 8.05 8.98 10.07 5.99
3.98 1.10 2.00 2.96 4.09 5.08 1.03 2.07 2.89 4.15 5.03 7.06 7.95 9.06 9.96 6.05
4.06 1.01 2.05 2.92 4.14 5.00 1.08 1.98 2.99 4.07 5.05 6.99 7.98 8.99 10.02 5.96
4.14 1.09 1.97 3.00 4.06 5.06 1.02 2.04 2.93 4.13 5.01 7.07 7.88 9.07 9.92 6.04
4.22 1.01 2.05 2.92 4.14 5.00 1.08 1.98 2.99 4.07 5.05 6.99 7.98 8.99 10.02 5.96
4.30 1.09 1.97 3.00 4.06 5.06 1.02 2.04 2.93 4.13 5.01 7.07 7.88 9.07 9.92 6.04
4.38 1.01 2.05 2.92 4.14 5.00 1.08 1.98 2.99 4.07 5.05 6.99 7.98 8.99 10.02 5.96
4.46 1.10 1.97 3.01 4.07 5.07 1.03 2.04 2.94 4.14 5.02 7.08 7.89 9.08 9.92 6.05
0.18 1.00 2.18 3.12 4.23 5.11 1.10 2.08 3.05 4.12 5.18 6.77 8.13 8.46 10.15 5.88
0.26 1.09 2.01 3.13 4.00 5.10 0.99 2.11 2.97 4.11 5.03 6.90 7.95 8.84 9.97 5.97
0.34 0.97 2.13 2.97 4.12 5.02 1.07 2.03 3.13 4.01 5.09 6.78 8.15 8.60 10.17 5.89
0.42 1.08 2.02 3.12 4.01 5.09 0.99 2.11 2.98 4.10 5.03 6.89 7.96 8.83 9.98 5.97
0.50 0.98 2.12 2.98 4.11 5.03 1.07 2.03 3.11 4.02 5.08 6.79 8.14 8.62 10.16 5.89
0.58 1.05 1.99 3.05 3.96 5.05 0.98 2.06 2.97 4.03 5.00 6.90 7.97 8.84 9.97 5.98
0.66 0.97 2.07 2.95 4.04 4.99 1.04 2.00 3.03 3.97 5.04 6.80 8.13 8.72 10.13 5.90
0.74 1.05 1.99 3.04 3.96 5.05 0.98 2.06 2.97 4.03 5.00 6.90 7.96 8.84 9.96 5.98
0.82 0.97 2.07 2.96 4.04 4.99 1.04 2.00 3.03 3.97 5.04 6.80 8.12 8.72 10.13 5.90
0.90 1.04 1.99 3.04 3.96 5.05 0.98 2.06 2.97 4.03 5.00 6.90 7.97 8.84 9.97 5.98
0.98 0.96 2.06 2.96 4.02 4.97 1.03 1.99 3.03 3.95 5.02 6.84 8.09 8.81 10.05 5.90
1.06 1.04 1.98 3.04 3.94 5.03 0.97 2.05 2.97 4.01 4.98 6.92 7.99 8.89 9.95 5.98
1.14 0.96 2.06 2.96 4.02 4.97 1.03 1.99 3.03 3.95 5.02 6.84 8.09 8.81 10.05 5.90
1.22 1.04 1.98 3.04 3.94 5.03 0.97 2.05 2.97 4.01 4.98 6.92 7.99 8.89 9.95 5.98
1.30 0.96 2.06 2.96 4.02 4.97 1.03 1.99 3.03 3.95 5.02 6.84 8.09 8.91 10.05 5.90
1.38 1.02 1.92 3.06 3.88 4.99 0.95 1.99 2.99 3.95 4.94 6.94 7.88 8.99 9.86 5.97
1.46 0.94 2.00 2.98 3.96 4.93 1.01 1.93 3.05 3.89 4.98 6.86 7.98 8.91 9.96 5.89
1.54 0.99 1.88 3.04 3.84 4.96 0.93 1.95 2.97 3.91 4.91 6.97 7.84 9.03 9.84 5.96
1.62 0.92 1.96 2.96 3.92 4.90 0.99 1.89 3.03 3.85 4.95 6.89 7.94 8.95 9.94 5.88
1.70 1.00 1.88 3.04 3.84 4.96 0.93 1.95 2.97 3.91 4.91 6.97 7.84 9.03 9.84 5.96
1.78 0.92 1.96 2.96 3.92 4.90 0.99 1.89 3.03 3.85 4.95 6.89 7.94 8.95 9.94 5.88
1.86 1.00 1.88 3.04 3.84 4.96 0.93 1.95 2.97 3.91 4.91 6.97 7.84 9.03 9.84 5.96
1.94 0.92 1.96 2.96 3.95 4.92 0.99 1.89 3.04 3.88 4.96 6.91 7.96 8.96 9.97 5.90
2.02 1.01 1.89 3.08 3.92 5.00 0.94 1.96 3.01 3.99 4.95 7.01 7.90 9.04 9.88 6.00
2.10 0.93 1.97 3.02 4.08 4.95 1.00 1.90 3.09 4.00 5.01 6.93 8.00 8.96 9.98 5.92
2.18 0.99 1.88 3.00 3.86 4.97 0.93 1.95 2.93 3.93 4.92 7.03 7.91 9.04 9.89 6.01
2.26 0.92 1.96 2.91 3.90 4.89 0.99 1.89 2.98 3.83 4.94 6.96 8.01 8.96 9.98 5.94
2.34 1.00 1.88 2.99 3.82 4.95 0.93 1.95 2.92 3.89 4.90 7.04 7.91 9.04 9.88 6.02
2.42 0.92 1.96 2.91 3.90 4.89 0.99 1.89 2.98 3.83 4.94 6.96 8.01 8.96 9.98 5.94
2.50 1.00 1.88 2.99 3.82 4.95 0.93 1.95 2.92 3.89 4.90 7.04 7.91 9.04 9.88 6.02
2.58 0.93 1.97 2.92 3.93 4.91 1.00 1.90 2.99 3.87 4.96 6.97 8.01 8.96 9.99 5.96
2.66 1.02 1.92 3.00 3.93 4.99 0.95 1.99 2.93 4.00 4.94 7.06 7.92 9.04 9.94 6.05
2.74 0.94 2.00 2.92 4.01 4.93 1.01 1.93 2.99 3.94 4.98 6.98 8.02 8.96 10.04 5.97
2.82 1.02 1.92 3.00 3.93 4.99 0.95 1.99 2.93 4.00 4.94 7.06 7.92 9.04 9.94 6.05
2.90 0.94 2.00 2.92 4.01 4.93 1.01 1.93 2.99 3.94 4.98 6.98 8.02 8.96 10.04 5.97
2.98 1.01 1.93 3.00 3.94 4.99 0.95 1.99 2.93 4.00 4.94 7.06 7.92 9.04 9.94 6.05
3.06 0.94 1.99 2.92 4.01 4.93 1.01 1.93 2.99 3.94 4.98 6.98 8.01 8.96 10.04 5.97
3.14 1.02 1.92 3.00 3.93 4.99 0.95 1.99 2.93 4.00 4.94 7.06 7.92 9.04 9.94 6.05
3.22 0.94 2.00 2.92 4.01 4.93 1.01 1.93 2.99 3.94 4.98 6.98 8.02 8.96 10.04 5.97
3.30 1.02 1.92 3.00 3.93 4.99 0.95 1.99 2.93 4.00 4.94 7.06 7.92 9.04 9.94 6.05
3.38 0.96 2.04 2.95 4.04 4.97 1.03 1.97 3.02 3.97 5.02 6.99 8.02 8.97 10.07 5.99
3.46 1.06 2.01 3.06 4.00 5.09 0.99 2.08 2.99 4.07 5.04 7.08 7.93 9.06 10.01 6.10
3.54 0.98 2.09 2.98 4.08 5.03 1.05 2.02 3.05 4.01 5.08 7.00 8.03 8.98 10.11 6.02
3.62 1.07 1.96 3.01 3.99 5.04 1.00 2.03 2.94 4.06 4.99 7.12 7.93 9.07 9.99 6.10
3.70 0.99 2.04 2.93 4.07 4.98 1.06 1.97 3.00 4.00 5.03 7.04 8.03 8.99 10.09 6.02
3.78 1.12 2.02 2.96 4.10 5.10 1.05 2.09 2.89 4.17 5.05 7.08 7.95 9.06 9.97 6.07
3.86 1.04 2.10 2.88 4.18 5.04 1.11 2.03 2.95 4.11 5.09 7.00 8.05 8.98 10.07 5.99
3.94 1.10 2.00 2.96 4.09 5.08 1.03 2.07 2.89 4.15 5.03 7.06 7.95 9.06 9.96 6.05
4.02 1.01 2.05 2.92 4.14 5.00 1.08 1.98 2.99 4.07 5.05 6.99 7.98 8.99 10.02 5.96
4.10 1.09 1.97 3.00 4.06 5.06 1.02 2.04 2.93 4.13 5.01 7.07 7.88 9.07 9.92 6.04
4.18 1.01 2.05 2.92 4.14 5.00 1.08 1.98 2.99 4.07 5.05 6.99 7.98 8.99 10.02 5.96
4.26 1.09 1.97 3.00 4.06 5.06 1.02 2.04 2.93 4.13 5.01 7.07 7.88 9.07 9.92 6.04
4.34 1.01 2.05 2.92 4.14 5.00 1.08 1.98 2.99 4.07 5.05 6.99 7.98 8.99 10.02 5.96
4.42 1.10 1.97 3.01 4.07 5.07 1.03 2.04 2.94 4.14 5.02 7.08 7.89 9.08 9.92 6.05
}\datatable
\begin{document}
\begin{tikzpicture}
\begin{axis}[
  at={(0,0)}, anchor=south west,
  scale only axis, width=476pt, height=414.5pt,
  xmin=0.02, xmax=4.5, ymin=0.348, ymax=11.13,
  xtick={0.5,1.0,1.5,2.0,2.5,3.0,3.5,4.0,4.5},
  ytick={2,4,6,8,10},
  xticklabel style={/pgf/number format/.cd, fixed, fixed zerofill, precision=1},
  /pgf/number format/assume math mode=true,
  tick label style={font=\fontsize{10}{12}\selectfont},
  tick pos=left, tick align=outside, major tick length=3pt,
  xlabel={time (hours)}, ylabel={normalized flux},
  label style={font=\fontsize{21.3}{25}\selectfont},
  xlabel style={yshift=3pt},
  clip mode=individual,
  legend columns=4, transpose legend,
  legend style={at={(0,1.141)}, anchor=north west, draw=black!15, rounded corners=2pt,
    font=\fontsize{9}{11}\selectfont, row sep=1pt},
  legend cell align=left,
]
\addlegendimage{apL=cA, legimg}\addlegendentry{\makebox[118.3pt][l]{satellite spot 1 apphot}}
\addlegendimage{apL=cB, legimg}\addlegendentry{\makebox[118.3pt][l]{satellite spot 2 apphot}}
\addlegendimage{apL=cC, legimg}\addlegendentry{\makebox[118.3pt][l]{satellite spot 3 apphot}}
\addlegendimage{apL=cD, legimg}\addlegendentry{\makebox[118.3pt][l]{satellite spot 4 apphot}}
\addlegendimage{bkL=cA, legimg}\addlegendentry{\makebox[124.7pt][l]{satellite spot 1 bkg sub}}
\addlegendimage{bkL=cB, legimg}\addlegendentry{\makebox[124.7pt][l]{satellite spot 2 bkg sub}}
\addlegendimage{bkL=cC, legimg}\addlegendentry{\makebox[124.7pt][l]{satellite spot 3 bkg sub}}
\addlegendimage{bkL=cD, legimg}\addlegendentry{\makebox[124.7pt][l]{satellite spot 4 bkg sub}}
\addlegendimage{only marks, mark=*, mark size=1.6pt, mark options={fill=cM, fill opacity=0.55, draw=black, draw opacity=0.4, line width=0.2pt}, legimg}\addlegendentry{mean of satellite spots, apphot}
\addlegendimage{only marks, mark=square*, mark size=1.5pt, mark options={fill=cN, fill opacity=0.55, draw=black, draw opacity=0.4, line width=0.2pt}, legimg}\addlegendentry{mean of satellite spots, with bkg sub}
\addlegendimage{only marks, mark=+, mark size=1.2pt, mark options={draw=black, line width=0.35pt}, legimg}\addlegendentry{2d gaussian fit}
\addlegendimage{empty legend}\addlegendentry{}
% apphot
\addplot[ap=cA, forget plot] table[x=t,y=s1a]{\datatable};
\addplot[ap=cB, forget plot] table[x=t,y=s2a]{\datatable};
\addplot[ap=cC, forget plot] table[x=t,y=s3a]{\datatable};
\addplot[ap=cD, forget plot] table[x=t,y=s4a]{\datatable};
% bkg sub
\addplot[bk=cA, forget plot] table[x=t,y=s1b]{\datatable};
\addplot[bk=cB, forget plot] table[x=t,y=s2b]{\datatable};
\addplot[bk=cC, forget plot] table[x=t,y=s3b]{\datatable};
\addplot[bk=cD, forget plot] table[x=t,y=s4b]{\datatable};
% means
\addplot[only marks, mark=*, mark size=2.1pt, mark options={fill=cM, fill opacity=0.55, draw=black, draw opacity=0.65, line width=0.3pt}, forget plot] table[x=t,y=ma]{\datatable};
\addplot[only marks, mark=square*, mark size=2.0pt, mark options={fill=cN, fill opacity=0.55, draw=black, draw opacity=0.65, line width=0.3pt}, forget plot] table[x=t,y=mb]{\datatable};
% gaussian fits
\addplot[gs, forget plot] table[x=t,y=g1]{\datatable};
\addplot[gs, forget plot] table[x=t,y=g2]{\datatable};
\addplot[gs, forget plot] table[x=t,y=g3]{\datatable};
\addplot[gs, forget plot] table[x=t,y=g4]{\datatable};
\addplot[gs, forget plot] table[x=t,y=gm]{\datatable};
% separator
\addplot[black, line width=1pt, no marks, forget plot] coordinates {(0.02,5.5) (4.5,5.5)};
\begin{scope}[every node/.style={font=\fontsize{10.6}{12}\selectfont, anchor=west, inner sep=0pt}]
\node at (axis cs:0.072,10.33) {With background subtraction};
\node at (axis cs:0.072,0.78) {No background subtraction};
\node at (axis cs:4.0,9.79) {spot 4};
\node at (axis cs:4.0,8.82) {spot 3};
\node at (axis cs:4.0,7.80) {spot 2};
\node at (axis cs:4.0,6.80) {spot 1};
\node at (axis cs:4.0,5.80) {mean, bkg sub};
\node at (axis cs:4.0,4.80) {mean, no bkg sub};
\node at (axis cs:4.0,3.83) {spot 4};
\node at (axis cs:4.0,2.83) {spot 3};
\node at (axis cs:4.0,1.80) {spot 2};
\node at (axis cs:4.0,0.79) {spot 1};
\end{scope}
\end{axis}
\pgfresetboundingbox
\path (-47.5pt,-39pt) rectangle (524pt,474.5pt);
\end{tikzpicture}
\end{document}
